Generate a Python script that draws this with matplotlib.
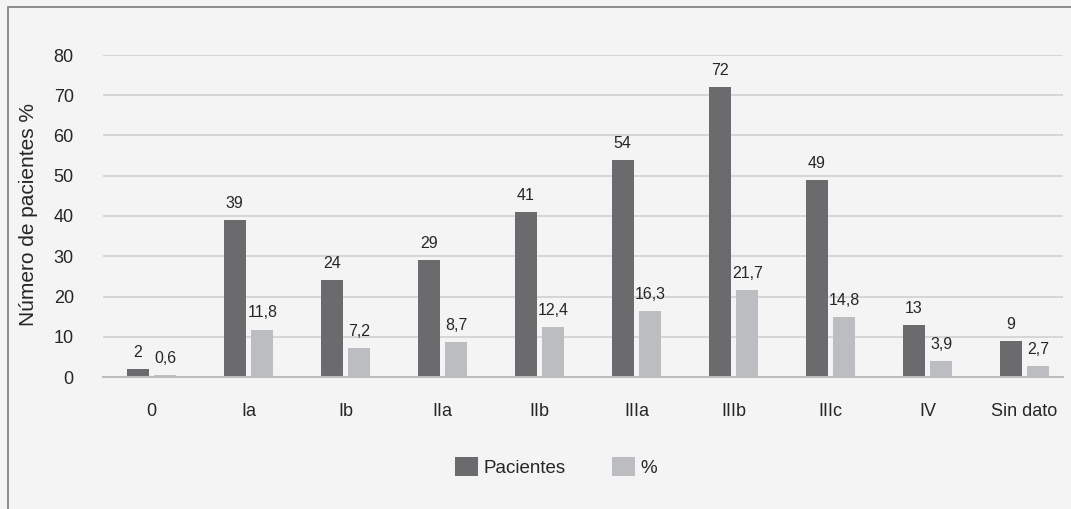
import matplotlib
matplotlib.use("Agg")
import matplotlib.pyplot as plt
from matplotlib.patches import Rectangle, Patch
import numpy as np

categories = ["0", "Ia", "Ib", "IIa", "IIb", "IIIa", "IIIb", "IIIc", "IV", "Sin dato"]
pacientes = [2, 39, 24, 29, 41, 54, 72, 49, 13, 9]
porcentaje = [0.6, 11.8, 7.2, 8.7, 12.4, 16.3, 21.7, 14.8, 3.9, 2.7]
yticks = [0, 10, 20, 30, 40, 50, 60, 70, 80]

plt.rcParams["font.family"] = ["Liberation Sans", "DejaVu Sans"]

W, H = 1071, 509
bg = "#f4f4f4"
dark = "#6b6b6e"
light = "#bcbdc0"
txt = "#262626"

fig = plt.figure(figsize=(W / 100, H / 100), dpi=100, facecolor=bg)
fig.add_artist(Rectangle((8 / W, -0.1), 1.2, 1 - 7 / H + 0.1, transform=fig.transFigure,
                         facecolor="none", edgecolor="#7a7a7a", linewidth=1.2))

ax = fig.add_axes([103 / W, 1 - 377 / H, (1063 - 103) / W, (377 - 55) / H])
ax.set_facecolor(bg)

x = np.arange(len(categories))
bw = 0.227
off = 0.142
ax.bar(x - off, pacientes, bw, color=dark, zorder=3)
ax.bar(x + off, porcentaje, bw, color=light, zorder=3)

for xi, v in zip(x, pacientes):
    ax.annotate(f"{v}", (xi - off, v), xytext=(0, 6.5), textcoords="offset points",
                ha="center", va="bottom", fontsize=11.5, color=txt)
for xi, v in zip(x, porcentaje):
    ax.annotate(f"{v}".replace(".", ","), (xi + off, v), xytext=(0, 6.5), textcoords="offset points",
                ha="center", va="bottom", fontsize=11.5, color=txt)

ax.set_xlim(-0.5, 9.397)
ax.set_ylim(0, 80)
ax.set_yticks(yticks)
ax.set_xticks(x)
ax.set_xticklabels(categories)
ax.tick_params(axis="x", length=0, pad=19, labelsize=13, labelcolor=txt)
ax.tick_params(axis="y", length=0, pad=21, labelsize=13, labelcolor=txt)
ax.grid(axis="y", color="#d0d0d0", linewidth=1.2, zorder=0)
for s in ["top", "right", "left"]:
    ax.spines[s].set_visible(False)
ax.spines["bottom"].set_color("#bdbdbd")
ax.spines["bottom"].set_linewidth(1.5)
ax.spines["bottom"].set_zorder(4)

fig.text(29 / W, 1 - 215 / H, "Número de pacientes %", rotation=90, ha="center", va="center",
         fontsize=15, color=txt)

handles = [Patch(facecolor=dark), Patch(facecolor=light)]
fig.legend(handles, ["Pacientes", "%"], loc="center", bbox_to_anchor=(556 / W, 1 - 467 / H),
           ncol=2, frameon=False, fontsize=13.5, handlelength=1.22, handleheight=1.22,
           handletextpad=0.32, columnspacing=2.45, labelcolor=txt, borderpad=0)

fig.savefig("out.png", dpi=100, facecolor=bg)
